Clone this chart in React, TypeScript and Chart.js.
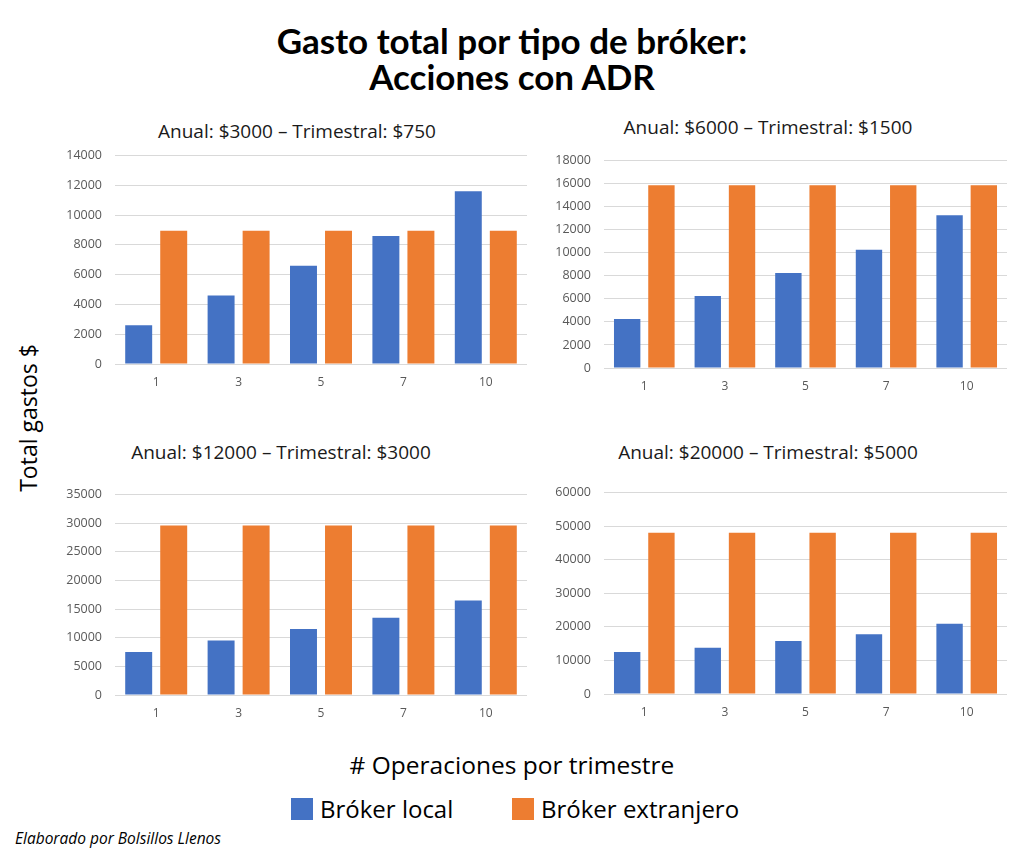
import React, { useEffect, useRef } from "react";
import { Chart, registerables } from "chart.js";

Chart.register(...registerables);

// Number of trades per quarter
const operaciones = ["1", "3", "5", "7", "10"];

// Panel headings (annual fee – quarterly fee)
const titulos = [
  "Anual: $3000 – Trimestral: $750",
  "Anual: $6000 – Trimestral: $1500",
  "Anual: $12000 – Trimestral: $3000",
  "Anual: $20000 – Trimestral: $5000",
];

// Total cost, local broker
const localA = [2600, 4600, 6600, 8600, 11600];
const localB = [4250, 6250, 8250, 10250, 13250];
const localC = [7500, 9500, 11500, 13500, 16500];
const localD = [12500, 13800, 15800, 17800, 20900];

// Total cost, foreign broker
const extranjeroA = [8950, 8950, 8950, 8950, 8950];
const extranjeroB = [15850, 15850, 15850, 15850, 15850];
const extranjeroC = [29600, 29600, 29600, 29600, 29600];
const extranjeroD = [48000, 48000, 48000, 48000, 48000];

// Y axis limits per panel
const yMax = [14000, 18000, 35000, 60000];
const yStep = [2000, 2000, 5000, 10000];

const AZUL = "#4472C4";
const NARANJA = "#ED7D31";
const FONT_SEGOE = "'Open Sans', 'Noto Sans', sans-serif";
const FONT_CALIBRI = "Lato, 'Open Sans', sans-serif";

type PanelBox = {
  left: number;
  top: number;
  width: number;
  height: number;
  yWidth: number;
  xHeight: number;
  padRight: number;
};

const boxes: PanelBox[] = [
  { left: 50, top: 135, width: 490, height: 265, yWidth: 65, xHeight: 36, padRight: 13 },
  { left: 540, top: 140, width: 480, height: 265, yWidth: 64, xHeight: 37, padRight: 13 },
  { left: 50, top: 474, width: 490, height: 260, yWidth: 65, xHeight: 39, padRight: 13 },
  { left: 540, top: 472, width: 480, height: 260, yWidth: 64, xHeight: 38, padRight: 13 },
];

const titleCenters = [
  { x: 297, y: 131 },
  { x: 768, y: 127 },
  { x: 281, y: 452 },
  { x: 768, y: 452 },
];

const localSeries = [localA, localB, localC, localD];
const extranjeroSeries = [extranjeroA, extranjeroB, extranjeroC, extranjeroD];

function Panel({ idx }: { idx: number }) {
  const ref = useRef<HTMLCanvasElement | null>(null);
  const box = boxes[idx];

  useEffect(() => {
    if (!ref.current) return;
    const chart = new Chart(ref.current, {
      type: "bar",
      data: {
        labels: operaciones,
        datasets: [
          {
            label: "Bróker local",
            data: localSeries[idx],
            backgroundColor: AZUL,
            categoryPercentage: 0.85,
            barPercentage: 0.77,
          },
          {
            label: "Bróker extranjero",
            data: extranjeroSeries[idx],
            backgroundColor: NARANJA,
            categoryPercentage: 0.85,
            barPercentage: 0.77,
          },
        ],
      },
      options: {
        animation: false,
        responsive: false,
        maintainAspectRatio: false,
        layout: {
          padding: { top: 0, right: box.padRight, left: 0, bottom: 0 },
        },
        plugins: {
          legend: { display: false },
          title: { display: false },
          tooltip: { enabled: false },
        },
        scales: {
          x: {
            grid: { display: false, drawTicks: false },
            border: { display: false },
            ticks: {
              color: "#595959",
              font: { family: FONT_SEGOE, size: 12 },
              padding: 11,
            },
            afterFit: (scale: any) => {
              scale.height = box.xHeight;
            },
          },
          y: {
            min: 0,
            max: yMax[idx],
            grid: { color: "#D9D9D9", lineWidth: 1, drawTicks: false },
            border: { display: false },
            ticks: {
              stepSize: yStep[idx],
              color: "#595959",
              font: { family: FONT_SEGOE, size: 12.5 },
              padding: 13,
              callback: (v: any) => String(v),
            },
            afterFit: (scale: any) => {
              scale.width = box.yWidth;
            },
          },
        },
      },
    });
    return () => chart.destroy();
  }, [idx]);

  return (
    <canvas
      ref={ref}
      width={box.width}
      height={box.height}
      style={{ position: "absolute", left: box.left, top: box.top, width: box.width, height: box.height }}
    />
  );
}

export default function App() {
  return (
    <div style={{ position: "relative", width: 1024, height: 860, margin: -8, background: "#fff", overflow: "hidden" }}>
      <div
        style={{
          position: "absolute",
          left: 0,
          width: 1024,
          top: 22,
          textAlign: "center",
          fontFamily: FONT_CALIBRI,
          fontWeight: 700,
          fontSize: 35,
          lineHeight: "36px",
          color: "#000",
        }}
      >
        Gasto total por tipo de bróker:
        <br />
        Acciones con ADR
      </div>

      {titulos.map((t, i) => (
        <div
          key={t}
          style={{
            position: "absolute",
            left: titleCenters[i].x - 200,
            width: 400,
            top: titleCenters[i].y - 13,
            lineHeight: "26px",
            textAlign: "center",
            fontFamily: FONT_SEGOE,
            fontSize: 19,
            color: "#1a1a1a",
            whiteSpace: "nowrap",
          }}
        >
          {t}
        </div>
      ))}

      {[0, 1, 2, 3].map((i) => (
        <Panel key={i} idx={i} />
      ))}

      <div
        style={{
          position: "absolute",
          left: 28 - 100,
          top: 418 - 15,
          width: 200,
          lineHeight: "30px",
          textAlign: "center",
          transform: "rotate(-90deg)",
          fontFamily: FONT_SEGOE,
          fontSize: 23,
          color: "#000",
          whiteSpace: "nowrap",
        }}
      >
        Total gastos $
      </div>

      <div
        style={{
          position: "absolute",
          left: 0,
          width: 1024,
          top: 765 - 16,
          lineHeight: "32px",
          textAlign: "center",
          fontFamily: FONT_SEGOE,
          fontSize: 24.5,
          color: "#000",
        }}
      >
        # Operaciones por trimestre
      </div>

      {/* legend */}
      <span style={{ position: "absolute", left: 291, top: 798, width: 22, height: 22, background: AZUL }} />
      <div
        style={{
          position: "absolute",
          left: 320,
          top: 793,
          lineHeight: "32px",
          fontFamily: FONT_SEGOE,
          fontSize: 24,
          color: "#000",
          whiteSpace: "nowrap",
        }}
      >
        Bróker local
      </div>
      <span style={{ position: "absolute", left: 512, top: 798, width: 22, height: 22, background: NARANJA }} />
      <div
        style={{
          position: "absolute",
          left: 541,
          top: 793,
          lineHeight: "32px",
          fontFamily: FONT_SEGOE,
          fontSize: 24,
          color: "#000",
          whiteSpace: "nowrap",
        }}
      >
        Bróker extranjero
      </div>

      <div
        style={{
          position: "absolute",
          left: 15,
          top: 828,
          lineHeight: "20px",
          fontFamily: FONT_SEGOE,
          fontStyle: "italic",
          fontSize: 15.5,
          color: "#000",
          whiteSpace: "nowrap",
        }}
      >
        Elaborado por Bolsillos Llenos
      </div>
    </div>
  );
}
